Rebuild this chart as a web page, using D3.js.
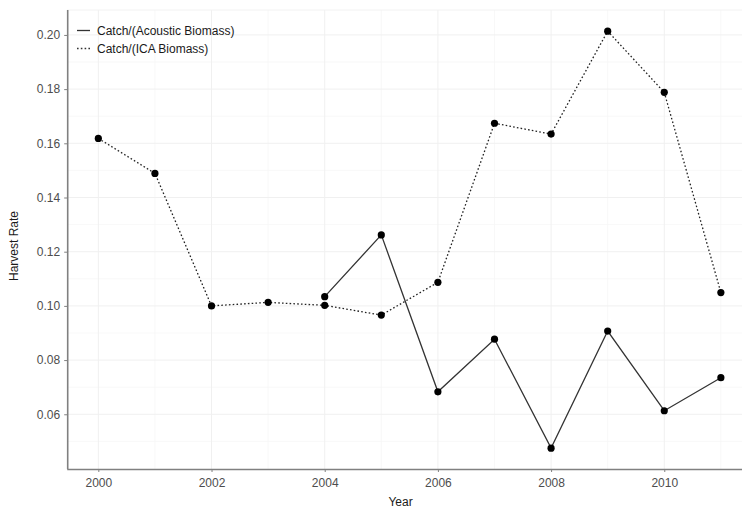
<!DOCTYPE html>
<html>
<head>
<meta charset="utf-8">
<script src="https://cdn.jsdelivr.net/npm/d3@7"></script>
<style>
  html, body { margin: 0; padding: 0; background: #fff; }
  svg { display: block; font-family: "Liberation Sans", Arial, Helvetica, sans-serif; }
</style>
</head>
<body>
<svg id="chart" width="742" height="509"></svg>
<script>
const years = [2000, 2001, 2002, 2003, 2004, 2005, 2006, 2007, 2008, 2009, 2010, 2011];
const acousticRate = [null, null, null, null, 0.1034, 0.1262, 0.0683, 0.0877, 0.0475, 0.0907, 0.0613, 0.0735];
const icaRate = [0.1618, 0.1489, 0.1000, 0.1013, 0.1002, 0.0966, 0.1087, 0.1674, 0.1634, 0.2014, 0.1788, 0.1049];
const xTicks = [2000, 2002, 2004, 2006, 2008, 2010];
const xMinor = [2001, 2003, 2005, 2007, 2009, 2011];
const yTicks = [0.06, 0.08, 0.10, 0.12, 0.14, 0.16, 0.18, 0.20];
const yMinor = [0.05, 0.07, 0.09, 0.11, 0.13, 0.15, 0.17, 0.19];
const seriesNames = ["Catch/(Acoustic Biomass)", "Catch/(ICA Biomass)"];

(function () {
const svg = d3.select("#chart");
const pL = 67.2, pR = 752, pT = 10, pB = 469;

const x = d3.scaleLinear().domain([1999.45, 2011.55]).range([pL, pR]);
const y = d3.scaleLinear().domain([0.0398, 0.2092]).range([pB, pT]);

// grid
const grid = svg.append("g");
grid.selectAll("line.ymin").data(yMinor).enter().append("line")
  .attr("x1", pL).attr("x2", pR).attr("y1", d => y(d)).attr("y2", d => y(d))
  .attr("stroke", "#f6f6f6").attr("stroke-width", 0.8);
grid.selectAll("line.xmin").data(xMinor).enter().append("line")
  .attr("y1", pT).attr("y2", pB).attr("x1", d => x(d)).attr("x2", d => x(d))
  .attr("stroke", "#f6f6f6").attr("stroke-width", 0.8);
grid.selectAll("line.ymaj").data(yTicks).enter().append("line")
  .attr("x1", pL).attr("x2", pR).attr("y1", d => y(d)).attr("y2", d => y(d))
  .attr("stroke", "#f0f0f0").attr("stroke-width", 1);
grid.selectAll("line.xmaj").data(xTicks).enter().append("line")
  .attr("y1", pT).attr("y2", pB).attr("x1", d => x(d)).attr("x2", d => x(d))
  .attr("stroke", "#f0f0f0").attr("stroke-width", 1);
grid.append("line").attr("x1", pL).attr("x2", pR).attr("y1", pT).attr("y2", pT)
  .attr("stroke", "#f2f2f2").attr("stroke-width", 1);

// axes
const xAxis = svg.append("g").attr("transform", `translate(0,${pB})`)
  .call(d3.axisBottom(x).tickValues(xTicks).tickFormat(d3.format("d")).tickSize(3).tickPadding(6));
const yAxis = svg.append("g").attr("transform", `translate(${pL},0)`)
  .call(d3.axisLeft(y).tickValues(yTicks).tickFormat(d3.format(".2f")).tickSize(3).tickPadding(4));
[xAxis, yAxis].forEach(a => {
  a.select(".domain").attr("stroke", "#808080").attr("stroke-width", 1.6);
  a.selectAll(".tick line").attr("stroke", "#808080").attr("stroke-width", 1);
  a.selectAll(".tick text").attr("fill", "#4d4d4d").attr("font-size", 12)
    .attr("font-family", "'Liberation Sans', Arial, sans-serif");
});
xAxis.select(".domain").attr("d", `M${pL},0.5H${pR}`);
yAxis.select(".domain").attr("d", `M0.5,${pB}V${pT}`);

// titles
svg.append("text").attr("x", (pL + 730) / 2 + 2).attr("y", 506)
  .attr("text-anchor", "middle").attr("font-size", 12).attr("fill", "#1a1a1a").text("Year");
svg.append("text").attr("transform", "translate(18,246) rotate(-90)")
  .attr("text-anchor", "middle").attr("font-size", 12).attr("fill", "#1a1a1a").text("Harvest Rate");

// series
const acousticData = years.map((yr, i) => ({ yr, v: acousticRate[i] })).filter(d => d.v !== null);
const icaData = years.map((yr, i) => ({ yr, v: icaRate[i] }));
const line = d3.line().x(d => x(d.yr)).y(d => y(d.v));

svg.append("path").datum(icaData).attr("d", line)
  .attr("fill", "none").attr("stroke", "#222").attr("stroke-width", 1.3)
  .attr("stroke-dasharray", "1.6,2.2");
svg.append("path").datum(acousticData).attr("d", line)
  .attr("fill", "none").attr("stroke", "#333").attr("stroke-width", 1.3);

svg.append("g").selectAll("circle").data(icaData.concat(acousticData)).enter().append("circle")
  .attr("cx", d => x(d.yr)).attr("cy", d => y(d.v)).attr("r", 3.6).attr("fill", "#000");

// legend
const lg = svg.append("g");
const legendY = [30.5, 48.5];
seriesNames.forEach((name, i) => {
  lg.append("line").attr("x1", 77).attr("x2", 90).attr("y1", legendY[i]).attr("y2", legendY[i])
    .attr("stroke", "#333").attr("stroke-width", 1.3)
    .attr("stroke-dasharray", i === 1 ? "1.6,2.2" : null);
  lg.append("text").attr("x", 97).attr("y", legendY[i] + 4.5)
    .attr("font-size", 12).attr("fill", "#1a1a1a").text(name);
});
})();
</script>
</body>
</html>
